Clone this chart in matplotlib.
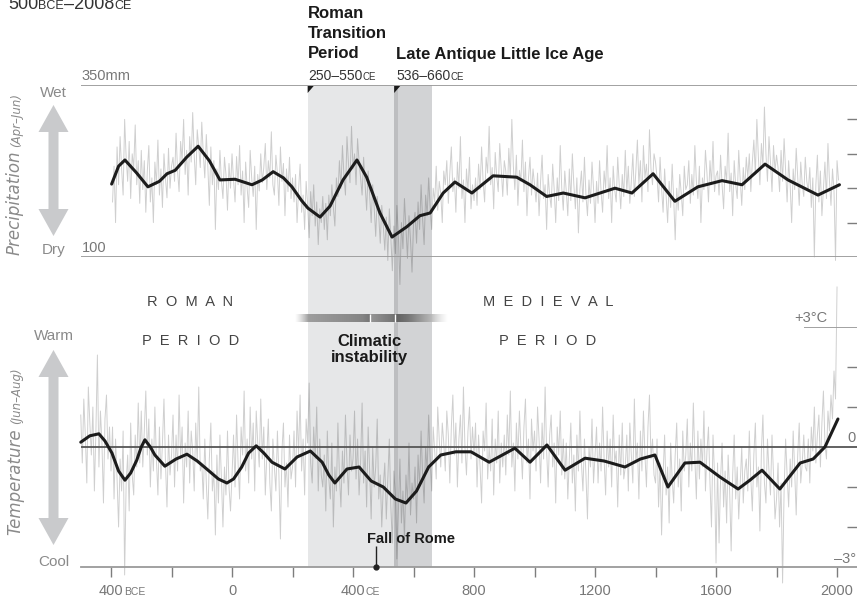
import numpy as np
import matplotlib
matplotlib.use('Agg')
import matplotlib.pyplot as plt
from matplotlib.patches import Polygon

plt.rcParams['font.family'] = ['Liberation Sans', 'DejaVu Sans']

# ---- data -------------------------------------------------------------
# annual precipitation (Apr-Jun, mm), read every 5 years from -395
prec_start = -395
prec_annual = [
    180, 232, 150, 260, 205, 275, 228, 190, 300, 245, 210, 268, 185, 250, 230, 292, 205, 240, 178, 255,
    198, 240, 165, 225, 262, 180, 215, 150, 238, 205, 270, 190, 228, 172, 250, 214, 186, 258, 200, 232,
    245, 210, 280, 225, 195, 268, 240, 300, 220, 255, 190, 275, 238, 310, 248, 205, 285, 260, 230, 296,
    250, 215, 278, 232, 175, 260, 205, 240, 140, 228, 198, 255, 210, 185, 245, 220, 168, 236, 200, 250,
    212, 180, 246, 205, 262, 190, 225, 150, 238, 200, 172, 255, 215, 188, 232, 140, 220, 196, 250, 208,
    230, 265, 198, 240, 215, 282, 205, 190, 248, 222, 175, 260, 210, 236, 160, 228, 195, 245, 185, 215,
    180, 220, 150, 198, 235, 165, 190, 140, 210, 175, 128, 195, 160, 205, 145, 180, 118, 170, 150, 188,
    140, 178, 125, 190, 160, 205, 172, 145, 215, 188, 240, 200, 262, 218, 190, 275, 235, 208, 290, 228,
    250, 205, 272, 238, 215, 190, 245, 205, 168, 225, 190, 150, 205, 172, 130, 188, 160, 120, 175, 145,
    110, 158, 95, 170, 128, 80, 145, 105, 175, 130, 60, 150, 112, 185, 140, 98, 160, 125, 78, 148,
    165, 120, 180, 140, 205, 155, 118, 190, 160, 215, 172, 140, 200, 180, 232, 168, 210, 192, 150, 225,
    205, 240, 178, 222, 260, 195, 215, 165, 238, 200, 275, 185, 212, 150, 228, 196, 245, 170, 205, 182,
    215, 175, 235, 198, 260, 210, 180, 245, 222, 290, 205, 230, 170, 252, 218, 195, 265, 228, 188, 240,
    225, 190, 258, 215, 300, 232, 198, 248, 175, 226, 210, 270, 195, 238, 160, 215, 245, 190, 228, 205,
    180, 222, 160, 210, 248, 185, 205, 140, 220, 190, 172, 235, 198, 150, 215, 182, 262, 200, 168, 225,
    195, 160, 228, 182, 250, 205, 170, 215, 135, 198, 225, 180, 245, 190, 160, 212, 178, 238, 200, 150,
    210, 178, 240, 195, 165, 225, 200, 262, 185, 215, 150, 232, 198, 180, 245, 205, 170, 220, 188, 255,
    195, 232, 178, 210, 250, 188, 225, 270, 205, 240, 180, 262, 215, 235, 195, 285, 228, 205, 250, 238,
    215, 180, 245, 200, 165, 228, 190, 150, 210, 172, 235, 185, 125, 200, 168, 220, 192, 160, 232, 198,
    205, 240, 178, 220, 190, 262, 210, 185, 232, 150, 215, 198, 255, 222, 180, 240, 205, 268, 195, 218,
    225, 190, 248, 205, 170, 232, 210, 280, 195, 222, 160, 240, 205, 185, 255, 212, 175, 230, 198, 245,
    215, 250, 195, 238, 270, 220, 300, 245, 205, 265, 232, 318, 250, 210, 275, 238, 195, 262, 225, 248,
    230, 195, 255, 210, 272, 225, 180, 240, 205, 150, 228, 198, 258, 215, 175, 238, 205, 188, 245, 210,
    195, 230, 172, 215, 100, 205, 248, 180, 225, 160, 200, 238, 185, 265, 210, 175, 228, 196, 95, 240,
    212,
]
# smoothed precipitation curve
prec_smooth_years = [-398, -375, -354, -315, -278, -240, -215, -188, -150, -112, -75, -40, 10, 66, 100,
                     136, 170, 198, 230, 251, 291, 324, 367, 413, 445, 489, 529, 578, 621, 655, 698,
                     737, 793, 863, 941, 985, 1040, 1095, 1167, 1266, 1322, 1392, 1464, 1540, 1620,
                     1686, 1762, 1838, 1937, 2008]
prec_smooth = [206, 232, 241, 222, 202, 210, 221, 226, 245, 261, 240, 212, 213, 205, 212,
               224, 215, 202, 182, 171, 158, 174, 212, 241, 216, 164, 129, 144, 160, 164, 193,
               209, 193, 218, 216, 205, 188, 193, 186, 200, 193, 221, 181, 202, 211,
               205, 235, 212, 190, 205]

# annual temperature anomaly (Jun-Aug, degC), every 5 years from -500
temp_start = -500
temp_annual = [
    0.8, -0.4, 1.2, 0.3, -0.9, 1.5, 0.6, -0.2, 1.0, -1.1, 0.4, 2.3, -0.5, 0.9, 0.1, -1.4, 0.7, 1.3, -0.3, 0.5,
    -0.6, 0.5, -1.3, 0.2, -0.8, -2.0, -0.3, -1.1, 0.4, -3.2, -0.9, -0.2, -1.6, 0.6, -0.7, -1.2, 0.3, -0.5, 1.1, -0.4,
    0.9, -0.5, 0.4, 1.4, -0.2, 0.7, -1.0, 0.2, -0.6, 1.0, -0.3, -1.2, 0.5, -0.8, 0.1, 1.2, -0.4, -1.5, 0.3, -0.7,
    -0.2, 0.8, -1.0, 0.3, -0.6, 1.3, -0.3, 0.5, -1.4, 0.1, -0.5, 0.9, -0.9, 0.4, -0.1, -1.1, 0.6, -0.4, 1.5, -0.6,
    -0.4, -1.3, 0.2, -0.9, -1.8, -0.3, 0.6, -1.1, -0.6, -2.2, -0.2, -1.4, 0.3, -0.8, -2.0, -0.5, -1.2, 0.4, -1.0, -1.6,
    -0.7, 0.3, -1.0, 0.8, -0.4, -1.3, 0.5, -0.2, 1.4, -0.6, 0.2, -0.9, 1.0, -0.3, 0.6, -1.1, 0.9, 0.1, -0.5, 1.2,
    -0.3, 0.5, -1.2, -0.2, 0.7, -0.9, -1.6, 0.2, -0.5, -1.1, 0.4, -0.7, -2.3, -0.1, 0.6, -1.0, -0.4, -1.5, 0.3, -0.8,
    -0.5, 0.4, -1.0, 0.9, -0.2, 1.3, -0.6, 0.2, -1.2, 0.7, 0.1, 1.6, -0.4, -0.9, 0.5, -0.3, 1.0, -1.1, 0.2, -0.7,
    -1.0, -0.2, -1.6, 0.4, -0.8, -1.3, 0.1, -2.0, -0.5, -1.1, 0.6, -0.7, -1.5, -0.1, -0.9, 0.8, -0.4, -1.2, 0.3, -0.6,
    -0.3, 0.9, -0.8, 0.2, -1.2, -0.4, 1.1, -0.9, -0.1, -1.5, 0.5, -0.6, -1.8, 0.0, -1.0, -0.5, 0.7, -1.3, -0.7, -2.0,
    -1.0, -0.4, -1.8, -0.8, 0.2, -1.5, -2.4, -0.6, -1.2, -2.8, -1.6, -0.3, -1.9, -1.1, -2.3, -0.7, -1.4, 0.1, -1.7, -0.9,
    -1.3, -0.5, -1.9, -0.2, -1.0, 0.4, -0.7, -1.4, 0.0, -0.6, 0.8, -0.3, -1.1, 0.5, -0.1, -0.8, 1.0, 0.2, -0.5, 0.6,
    0.1, -0.6, 0.9, 0.3, -0.9, 0.5, 1.3, -0.2, 0.6, -1.0, 0.2, 0.8, -0.4, 1.5, 0.0, -0.7, 0.4, 1.0, -0.3, 0.5,
    -0.2, 0.6, -1.0, 0.3, -0.5, -1.4, 0.4, -0.1, 1.1, -0.8, 0.0, -0.6, 0.7, -1.2, 0.2, -0.4, 0.9, -0.9, 0.1, -0.5,
    0.3, -0.7, 0.8, -0.2, 1.4, -0.5, 0.1, -1.1, 0.6, -0.3, 0.9, 0.0, -0.8, 0.5, 1.2, -0.4, 0.2, -1.3, 0.7, -0.1,
    0.4, -0.6, 1.0, 0.2, -0.9, 0.6, -0.3, 1.5, -0.1, -1.0, 0.3, 0.8, -0.5, 0.1, -1.4, 0.5, -0.2, 0.9, -0.7, 0.2,
    -0.8, 0.1, -1.3, -0.3, 0.6, -0.9, -0.2, -1.6, 0.3, -0.6, 0.9, -0.4, -1.1, 0.2, -0.7, -1.8, 0.0, -0.5, 0.7, -0.9,
    -0.2, 0.5, -0.9, 0.1, -0.6, 1.0, -0.3, -1.2, 0.4, -0.5, 0.2, -1.0, 0.8, -0.4, -0.1, -1.5, 0.3, -0.7, 0.6, -0.8,
    -0.5, 0.3, -1.1, 0.6, -0.2, -0.9, 1.2, -0.4, 0.1, -1.3, 0.4, -0.6, 0.9, -0.2, -1.0, 0.5, 1.3, -0.3, 0.2, -0.7,
    -0.9, 0.2, -1.5, -0.4, -2.2, -0.7, 0.3, -1.2, -0.5, -1.9, 0.1, -0.8, -1.4, -0.2, 0.6, -1.0, -0.3, -1.6, 0.4, -0.6,
    -0.2, 0.7, -1.0, 0.1, -0.6, 1.1, -0.3, -1.3, 0.4, -0.8, 0.2, -0.5, 0.9, -1.1, -0.1, 0.5, -0.9, -2.0, 0.3, -0.7,
    -2.9, -0.4, -2.4, -0.8, 0.1, -1.5, -0.6, -1.9, -0.2, -1.1, -2.6, -0.7, 0.3, -1.3, -0.5, -1.8, -0.9, 0.0, -1.4, -0.6,
    -0.3, -1.1, 0.4, -0.8, -1.6, -0.2, 0.6, -1.0, -0.5, -2.1, -0.1, 0.8, -0.9, -1.4, 0.2, -0.6, -1.2, 0.3, -0.7, -1.8,
    -1.3, -0.4, -2.0, -0.9, -3.4, -1.1, 0.2, -0.7, -1.5, -0.3, -1.0, 0.4, -0.6, -1.7, -0.2, 0.6, -0.9, -0.4, 0.3, -0.5,
    -0.6, 0.2, -0.9, 0.5, -0.1, 1.0, -0.4, 0.3, 0.8, -0.5, 0.6, 1.4, 0.1, -0.3, 0.9, 0.4, 1.3, 0.7, 1.9, 1.2,
    4.0,
]
temp_smooth_years = [-500, -470, -440, -420, -397, -375, -354, -335, -315, -300, -288, -270, -255, -222,
                     -185, -149, -115, -79, -45, -17, 5, 32, 55, 80, 105, 132, 175, 215, 259, 298, 320,
                     340, 380, 420, 460, 500, 540, 575, 610, 650, 690, 740, 790, 850, 935, 985, 1041,
                     1101, 1167, 1230, 1299, 1350, 1398, 1441, 1497, 1547, 1613, 1673, 1712, 1752,
                     1811, 1878, 1921, 1960, 2003]
temp_smooth = [0.12, 0.28, 0.33, 0.15, -0.15, -0.6, -0.83, -0.65, -0.33, 0.0, 0.18, 0.0, -0.2, -0.48,
               -0.3, -0.18, -0.35, -0.58, -0.8, -0.9, -0.8, -0.5, -0.15, 0.03, -0.15, -0.38, -0.55, -0.25,
               -0.1, -0.38, -0.7, -0.9, -0.55, -0.5, -0.85, -1.0, -1.3, -1.4, -1.1, -0.5, -0.2, -0.12,
               -0.12, -0.38, -0.03, -0.38, 0.05, -0.58, -0.28, -0.35, -0.5, -0.3, -0.2, -1.0, -0.4,
               -0.38, -0.75, -1.05, -0.83, -0.58, -1.05, -0.4, -0.3, 0.0, 0.7]

periods = [('Roman Transition Period', 250, 550), ('Late Antique Little Ice Age', 536, 660)]
fall_of_rome = 476
prec_ticks = [150, 200, 250, 300]
temp_ticks = [-2, -1, 1, 2]
year_ticks = list(range(-400, 2001, 200))
year_labels = {-400: ('400', 'BCE'), 0: ('0', ''), 400: ('400', 'CE'), 800: ('800', ''),
               1200: ('1200', ''), 1600: ('1600', ''), 2000: ('2000', '')}

prec_years = prec_start + 5 * np.arange(len(prec_annual))
temp_years = temp_start + 5 * np.arange(len(temp_annual))

# ---- layout -----------------------------------------------------------
W, H = 857, 598
X0, X1 = -767, 2066
LINE = '#9a9a9a'
TICK = '#7d7d7d'
LABEL = '#8a8a8a'


def fy(y):
    return 1 - y / H


fig = plt.figure(figsize=(W / 100, H / 100), dpi=100)
renderer = fig.canvas.get_renderer()

# shaded periods (spans both panels)
ax_shade = fig.add_axes([0, fy(567), 1, (567 - 85) / H])
ax_shade.axvspan(periods[0][1], periods[0][2], color='#e6e7e8', lw=0)
ax_shade.axvspan(periods[1][1], periods[1][2], color='#d2d3d5', lw=0)
ax_shade.axvspan(periods[1][1], periods[0][2], color='#bdbec0', lw=0)
for name, a, b in periods:
    ax_shade.add_patch(Polygon([(a, 86), (a + 20, 86), (a, 93)], closed=True, color='#1a1a1a', lw=0))

# climatic instability gradient bar
xs = np.linspace(0, 1, 400)
gray = np.interp(xs, [0, 0.08, 0.44, 0.49, 0.5, 0.64, 0.66, 0.74, 0.88, 1.0],
                 [0.75, 0.62, 0.52, 0.46, 0.58, 0.46, 0.38, 0.46, 0.7, 0.85])
alpha = np.interp(xs, [0, 0.09, 0.88, 1.0], [0, 1, 1, 0])
rgba = np.zeros((1, len(xs), 4))
rgba[..., 0] = gray
rgba[..., 1] = gray
rgba[..., 2] = gray
rgba[..., 3] = alpha
ax_shade.imshow(rgba, extent=(208, 711, 322, 314), aspect='auto', interpolation='bilinear', zorder=3)
ax_shade.vlines([456, 540], 314, 322, color='white', lw=1, zorder=4)
ax_shade.set_xlim(X0, X1)
ax_shade.set_ylim(567, 85)
ax_shade.axis('off')

# precipitation panel
ax_top = fig.add_axes([0, fy(257), 1, 172 / H])
ax_top.patch.set_visible(False)
ax_top.plot(prec_years, prec_annual, color='k', alpha=0.19, lw=0.7, clip_on=False)
ax_top.plot(prec_smooth_years, prec_smooth, color='#1c1c1c', lw=2.2, solid_joinstyle='round',
            solid_capstyle='round')
ax_top.hlines([100, 350], -500, X1, color=LINE, lw=1.3)
ax_top.set_xlim(X0, X1)
ax_top.set_ylim(100, 350)
ax_top.set_xticks([])
ax_top.set_yticks(prec_ticks)
ax_top.tick_params(axis='y', left=False, right=True, direction='in', length=7.5, width=1,
                   color=TICK, labelleft=False)
for s in ax_top.spines.values():
    s.set_visible(False)

# temperature panel
ax_bot = fig.add_axes([0, fy(567), 1, 240 / H])
ax_bot.patch.set_visible(False)
ax_bot.plot(temp_years, temp_annual, color='k', alpha=0.19, lw=0.7, clip_on=False)
ax_bot.hlines(0, -500, X1, color='#555555', lw=1.3)
ax_bot.hlines(3, 1891, X1, color=LINE, lw=1.3)
ax_bot.plot(temp_smooth_years, temp_smooth, color='#1c1c1c', lw=2.2, solid_joinstyle='round',
            solid_capstyle='round')
ax_bot.vlines(fall_of_rome, -3, -2.47, color='#222222', lw=1)
ax_bot.plot([fall_of_rome], [-3], 'o', ms=3.5, color='#222222', clip_on=False, zorder=5)
ax_bot.set_xlim(X0, X1)
ax_bot.set_ylim(-3, 3)
ax_bot.set_yticks(temp_ticks)
ax_bot.set_xticks(year_ticks)
ax_bot.tick_params(axis='y', left=False, right=True, direction='in', length=7.5, width=1,
                   color=TICK, labelleft=False)
ax_bot.tick_params(axis='x', direction='out', length=7.5, width=1, color=TICK, labelbottom=False)
for k in ['top', 'left', 'right']:
    ax_bot.spines[k].set_visible(False)
ax_bot.spines['bottom'].set_color(LINE)
ax_bot.spines['bottom'].set_linewidth(1.3)
ax_bot.spines['bottom'].set_bounds(-500, X1)


# ---- text -------------------------------------------------------------
def txt(x, y, s, size, **kw):
    kw.setdefault('va', 'baseline')
    return fig.text(x / W, fy(y), s, fontsize=size, **kw)


def suffix(t, s, size, gap=0.0, **kw):
    bb = t.get_window_extent(renderer)
    return fig.text((bb.x1 + gap) / W, t.get_position()[1], s, fontsize=size,
                    va='baseline', ha='left', **kw)


# year labels with small-caps suffix
for yr, (num, suf) in year_labels.items():
    x = ax_bot.transData.transform((yr, 0))[0]
    t = txt(x, 595, num, 10.5, ha='center', color='#777777')
    if suf:
        suffix(t, suf, 7.5, gap=0.5, color='#777777')

# title (cut at top edge)
t = txt(8, 9, '500', 13, color='#333333')
t = suffix(t, 'BCE', 9, color='#333333')
t = suffix(t, '–2008', 13, color='#333333')
suffix(t, 'CE', 9, color='#333333')

# period headings
for i, line in enumerate(['Roman', 'Transition', 'Period']):
    txt(308, 18.5 + 20 * i, line, 12, fontweight='bold', color='#1a1a1a')
txt(396, 58.5, 'Late Antique Little Ice Age', 12, fontweight='bold', color='#1a1a1a')
t = txt(308, 80, '250–550', 10, color='#333333')
suffix(t, 'CE', 7, color='#333333')
t = txt(396, 80, '536–660', 10, color='#333333')
suffix(t, 'CE', 7, color='#333333')

# scale labels
txt(81, 80, '350mm', 10.5, color='#777777')
txt(82, 252, '100', 10.5, color='#777777')
txt(794, 322, '+3°C', 10.5, color='#777777')
txt(847, 442, '0', 10.5, color='#777777')
txt(856, 563, '–3°', 10.5, color='#777777', ha='right')

# left axis descriptors
txt(53.5, 97, 'Wet', 11, ha='center', color=LABEL)
txt(53.5, 254, 'Dry', 11, ha='center', color=LABEL)
txt(53.5, 340, 'Warm', 11, ha='center', color=LABEL)
txt(53.5, 566, 'Cool', 11, ha='center', color=LABEL)


def double_arrow(top, bottom, x=53.5, head=27, hw=15, sw=5):
    pts = [(x, top), (x + hw, top + head), (x + sw, top + head), (x + sw, bottom - head),
           (x + hw, bottom - head), (x, bottom), (x - hw, bottom - head), (x - sw, bottom - head),
           (x - sw, top + head), (x - hw, top + head)]
    pts = [(px / W, fy(py)) for px, py in pts]
    fig.add_artist(Polygon(pts, closed=True, color='#c9cacc', lw=0, transform=fig.transFigure))


double_arrow(105, 236)
double_arrow(350, 545)


def vlabel(x, y, main, sub):
    t = fig.text(x / W, fy(y), main, fontsize=12, style='italic', rotation=90,
                 rotation_mode='anchor', ha='left', va='baseline', color=LABEL,
                 family=['DejaVu Sans'])
    bb = t.get_window_extent(renderer)
    fig.text(x / W, (bb.y1 + 4) / H, sub, fontsize=8.5, style='italic', rotation=90,
             rotation_mode='anchor', ha='left', va='baseline', color=LABEL,
             family=['DejaVu Sans'])


vlabel(20, 255, 'Precipitation', '(Apr–Jun)')
vlabel(20, 535, 'Temperature', '(Jun–Aug)')

# era labels
for cx, word, y in [(190, 'ROMAN', 306), (191, 'PERIOD', 345), (548, 'MEDIEVAL', 306), (548, 'PERIOD', 345)]:
    txt(cx, y, '  '.join(word), 10.5, ha='center', color='#444444')

txt(369, 346, 'Climatic', 12, ha='center', fontweight='bold', color='#1a1a1a')
txt(369, 362, 'instability', 12, ha='center', fontweight='bold', color='#1a1a1a')
txt(411, 543, 'Fall of Rome', 10.5, ha='center', fontweight='bold', color='#1a1a1a')

fig.savefig('out.png', dpi=100)
